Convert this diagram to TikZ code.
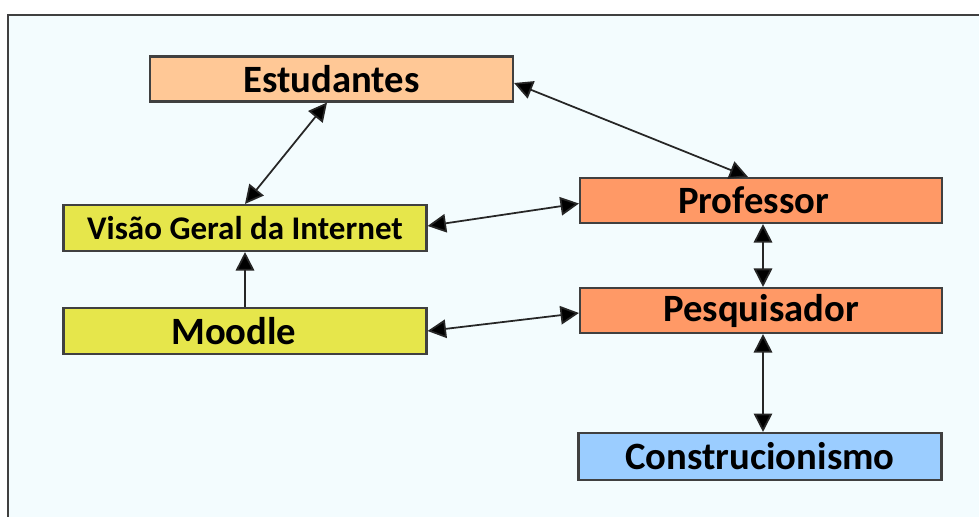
\documentclass[tikz,border=0pt]{standalone}
\usepackage{fontspec}
\setmainfont{Carlito}
\usepackage{tikz}
\usetikzlibrary{arrows.meta, positioning}
\definecolor{fundo}{RGB}{243,252,254}
\definecolor{borda}{RGB}{64,64,64}
\definecolor{pessego}{RGB}{255,200,150}
\definecolor{amarelo}{RGB}{230,230,75}
\definecolor{laranja}{RGB}{255,153,102}
\definecolor{azul}{RGB}{155,205,255}
\tikzstyle{bloco} = [rectangle, draw=borda, line width=1.2pt, minimum width=7.26cm, minimum height=0.9cm, inner sep=0pt, font=\bfseries\fontsize{22}{25}\selectfont]
\tikzstyle{line} = [draw, line width=1pt, color=black!85]
\tikzstyle{both} = [{Triangle[length=10.5pt,width=10.5pt,fill=black]}-{Triangle[length=10.5pt,width=10.5pt,fill=black]}]
\tikzstyle{one} = [-{Triangle[length=10.5pt,width=10.5pt,fill=black]}]

\begin{document}
\begin{tikzpicture}[x=0.2mm, y=-0.2mm]
			\useasboundingbox (0,0) rectangle (979,516);
			\path [fill=fundo, draw=borda, line width=1.4pt] (8,15) rectangle (1000,540);

			\node [bloco, fill=pessego] (estud) at (331.5, 79) {Estudantes};
			\node [bloco, fill=amarelo, minimum height=0.92cm, font=\bfseries\fontsize{18.8}{21}\selectfont] (visao) at (245, 228) {Visão Geral da Internet};
			\node [bloco, fill=amarelo, minimum height=0.92cm] (moodle) at (245, 331) {Moodle\kern0.45cm};
			\node [bloco, fill=laranja, minimum width=7.24cm] (prof) at (761, 200.5) {Professor\kern0.3cm};
			\node [bloco, fill=laranja, minimum width=7.24cm] (pesq) at (761, 310.5) {Pesquisador};
			\node [bloco, fill=azul, minimum height=0.94cm] (constr) at (760, 456.5) {Construcionismo};

			\path [line, both] ([xshift=-0.09cm]estud.south) -- (visao.north);
			\path [line, both] ([yshift=-0.08cm]estud.east) -- ([xshift=-0.26cm]prof.north);
			\path [line, both] ([yshift=0.04cm]visao.east) -- ([yshift=-0.06cm]prof.west);
			\path [line, one] (moodle.north) -- (visao.south);
			\path [line, both] (moodle.east) -- ([yshift=-0.05cm]pesq.west);
			\path [line, both] ([xshift=0.04cm]prof.south) -- ([xshift=0.04cm]pesq.north);
			\path [line, both] ([xshift=0.04cm]pesq.south) -- ([xshift=0.06cm]constr.north);
		\end{tikzpicture}
\end{document}
